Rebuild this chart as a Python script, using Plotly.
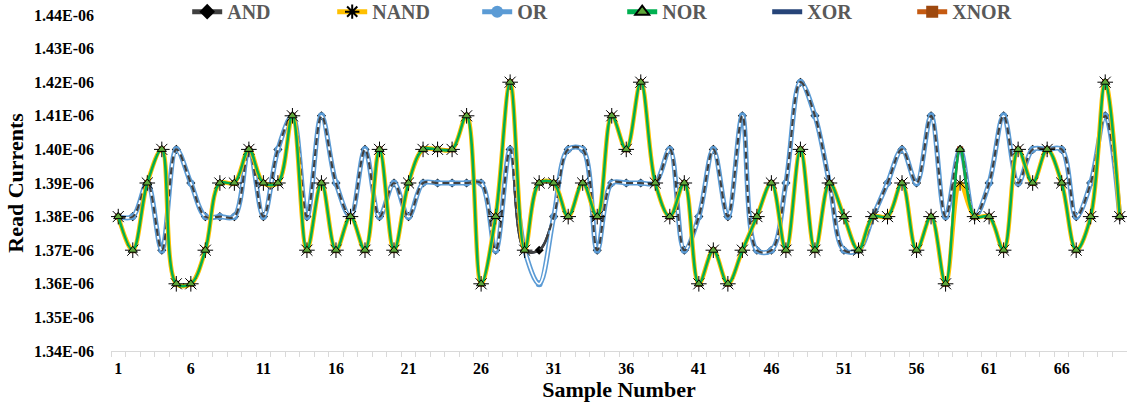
import plotly.graph_objects as go

samples = list(range(1, 71))

# Group values (in units of 1e-6 A)
nor_vals = [1.38, 1.37, 1.39, 1.40, 1.36, 1.36, 1.37, 1.39, 1.39, 1.40,
            1.39, 1.39, 1.41, 1.37, 1.39, 1.37, 1.38, 1.37, 1.40, 1.37,
            1.39, 1.40, 1.40, 1.40, 1.41, 1.36, 1.38, 1.42, 1.37, 1.39,
            1.39, 1.38, 1.39, 1.38, 1.41, 1.40, 1.42, 1.39, 1.38, 1.39,
            1.36, 1.37, 1.36, 1.37, 1.38, 1.39, 1.37, 1.40, 1.37, 1.39,
            1.38, 1.37, 1.38, 1.38, 1.39, 1.37, 1.38, 1.36, 1.40, 1.38,
            1.38, 1.37, 1.40, 1.39, 1.40, 1.39, 1.37, 1.38, 1.42, 1.38]
nand_vals = [1.38, 1.37, 1.39, 1.40, 1.36, 1.36, 1.37, 1.39, 1.39, 1.40,
             1.39, 1.39, 1.41, 1.37, 1.39, 1.37, 1.38, 1.37, 1.40, 1.37,
             1.39, 1.40, 1.40, 1.40, 1.41, 1.36, 1.38, 1.42, 1.37, 1.39,
             1.39, 1.38, 1.39, 1.38, 1.41, 1.40, 1.42, 1.39, 1.38, 1.39,
             1.36, 1.37, 1.36, 1.37, 1.38, 1.39, 1.37, 1.40, 1.37, 1.39,
             1.38, 1.37, 1.38, 1.38, 1.39, 1.37, 1.38, 1.36, 1.39, 1.38,
             1.38, 1.37, 1.40, 1.39, 1.40, 1.39, 1.37, 1.38, 1.42, 1.38]
xnor_vals = list(nor_vals)
or_vals = [1.38, 1.38, 1.39, 1.37, 1.40, 1.39, 1.38, 1.38, 1.38, 1.40,
           1.38, 1.40, 1.41, 1.38, 1.41, 1.39, 1.38, 1.40, 1.38, 1.39,
           1.38, 1.39, 1.39, 1.39, 1.39, 1.39, 1.37, 1.40, 1.37, 1.36,
           1.38, 1.40, 1.40, 1.37, 1.39, 1.39, 1.39, 1.39, 1.40, 1.37,
           1.38, 1.40, 1.38, 1.41, 1.37, 1.37, 1.39, 1.42, 1.41, 1.39,
           1.37, 1.37, 1.38, 1.39, 1.40, 1.39, 1.41, 1.38, 1.40, 1.38,
           1.39, 1.41, 1.39, 1.40, 1.40, 1.40, 1.38, 1.39, 1.41, 1.38]
and_vals = [1.38, 1.38, 1.39, 1.37, 1.40, 1.39, 1.38, 1.38, 1.38, 1.40,
            1.38, 1.40, 1.41, 1.38, 1.41, 1.39, 1.38, 1.40, 1.38, 1.39,
            1.38, 1.39, 1.39, 1.39, 1.39, 1.39, 1.37, 1.40, 1.37, 1.37,
            1.38, 1.40, 1.40, 1.37, 1.39, 1.39, 1.39, 1.39, 1.40, 1.37,
            1.38, 1.40, 1.38, 1.41, 1.37, 1.37, 1.39, 1.42, 1.41, 1.39,
            1.37, 1.37, 1.38, 1.39, 1.40, 1.39, 1.41, 1.38, 1.40, 1.38,
            1.39, 1.41, 1.39, 1.40, 1.40, 1.40, 1.38, 1.39, 1.41, 1.38]
xor_vals = list(and_vals)

y_ticks = [1.34, 1.35, 1.36, 1.37, 1.38, 1.39, 1.40, 1.41, 1.42, 1.43, 1.44]
y_tick_labels = ["1.34E-06", "1.35E-06", "1.36E-06", "1.37E-06", "1.38E-06",
                 "1.39E-06", "1.40E-06", "1.41E-06", "1.42E-06", "1.43E-06", "1.44E-06"]
x_ticks = [1, 6, 11, 16, 21, 26, 31, 36, 41, 46, 51, 56, 61, 66]

def sc(v):
    return [a * 1e-6 for a in v]

FONT = "Liberation Serif"
SPL = dict(shape="spline", smoothing=1.0)

fig = go.Figure()

# XOR (under)
fig.add_trace(go.Scatter(x=samples, y=sc(xor_vals), name="XOR", mode="lines",
                         line=dict(color="#264478", width=2.5, **SPL), legendrank=5))
# AND (with diamonds, under OR)
fig.add_trace(go.Scatter(x=samples, y=sc(and_vals), name="AND", mode="lines+markers",
                         line=dict(color="#404040", width=2.5, **SPL),
                         marker=dict(symbol="diamond", size=7, color="#000000"),
                         legendrank=1))
# OR double line
fig.add_trace(go.Scatter(x=samples, y=sc(or_vals), name="OR", mode="lines+markers",
                         line=dict(color="#5B9BD5", width=5, **SPL),
                         marker=dict(symbol="circle", size=7, color="#5B9BD5"),
                         legendrank=3))
fig.add_trace(go.Scatter(x=samples, y=sc(or_vals), mode="lines", showlegend=False,
                         hoverinfo="skip",
                         line=dict(color="#FFFFFF", width=1.8, **SPL)))
fig.add_trace(go.Scatter(x=samples, y=sc(and_vals), mode="lines", showlegend=False,
                         hoverinfo="skip",
                         line=dict(color="#404040", width=2.2, dash="7px,4px", **SPL)))
# XNOR (under)
fig.add_trace(go.Scatter(x=samples, y=sc(xnor_vals), name="XNOR", mode="lines+markers",
                         line=dict(color="#C55A11", width=2.5, **SPL),
                         marker=dict(symbol="square", size=6, color="#9E480E"),
                         legendrank=6))
# NAND
fig.add_trace(go.Scatter(x=samples, y=sc(nand_vals), name="NAND", mode="lines+markers",
                         line=dict(color="#FFC000", width=4.5, **SPL),
                         marker=dict(symbol="asterisk-open", size=13, color="#000000",
                                     line=dict(color="#000000", width=1)),
                         legendrank=2))
# NOR
fig.add_trace(go.Scatter(x=samples, y=sc(nor_vals), name="NOR", mode="lines+markers",
                         line=dict(color="#00B050", width=2.5, **SPL),
                         marker=dict(symbol="triangle-up", size=8, color="#5FA83A",
                                     line=dict(color="#000000", width=1)),
                         legendrank=4))

fig.update_layout(
    width=1127, height=410,
    margin=dict(l=111, r=0, t=15, b=59, autoexpand=False),
    paper_bgcolor="white", plot_bgcolor="white",
    font=dict(family=FONT, color="#000000"),
    showlegend=True,
    legend=dict(orientation="h", x=0.075, xanchor="left", y=1.068, yanchor="top",
                font=dict(family=FONT, size=20, color="#595959", weight="bold"),
                entrywidth=100, entrywidthmode="pixels",
                bgcolor="rgba(0,0,0,0)", itemsizing="constant", tracegroupgap=0),
    xaxis=dict(range=[0.5, 70.5], tickmode="array", tickvals=x_ticks,
               ticks="", showgrid=False, zeroline=False,
               showline=True, linecolor="#D9D9D9", linewidth=1,
               tickfont=dict(family=FONT, size=16, weight="bold"),
               ticklabelstandoff=3,
               minor=dict(tick0=0.5, dtick=1, ticks="outside", ticklen=5,
                          tickcolor="#D9D9D9", showgrid=False),
               title=dict(text="Sample Number", standoff=5,
                          font=dict(family=FONT, size=22, weight="bold"))),
    yaxis=dict(range=[1.34e-6, 1.44e-6], tickmode="array",
               tickvals=sc(y_ticks), ticktext=y_tick_labels,
               showgrid=False, zeroline=False, showline=False, ticks="",
               tickfont=dict(family=FONT, size=16, weight="bold"),
               ticklabelstandoff=16,
               title=dict(text="Read Currents", standoff=4,
                          font=dict(family=FONT, size=22, weight="bold"))),
)

fig.write_html("out.html")
